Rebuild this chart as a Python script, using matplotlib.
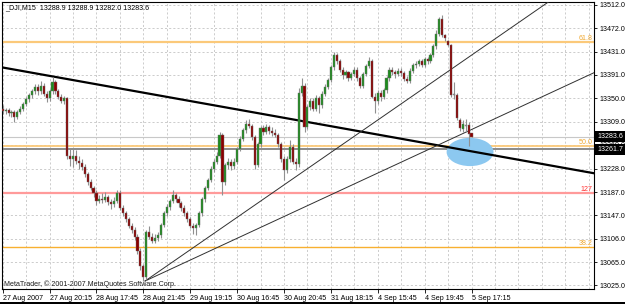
import matplotlib
matplotlib.use('Agg')
import matplotlib.pyplot as plt
from matplotlib.patches import Rectangle, Ellipse
from matplotlib import font_manager

# ---------------- data ----------------
opens = [13332, 13328, 13330, 13324, 13326, 13318, 13326, 13332, 13340, 13348,
         13356, 13362, 13370, 13362, 13372, 13358, 13350, 13362, 13378, 13362,
         13352, 13346, 13350, 13250, 13245, 13250, 13242, 13238, 13230, 13218,
         13205, 13194, 13185, 13172, 13176, 13174, 13178, 13170, 13166, 13172,
         13186, 13160, 13150, 13140, 13128, 13122, 13110, 13085, 13058, 13040,
         13118, 13110, 13102, 13108, 13112, 13130, 13150, 13162, 13172, 13182,
         13176, 13168, 13160, 13150, 13140, 13128, 13124, 13130, 13150, 13175,
         13195, 13208, 13228, 13240, 13250, 13286, 13205, 13235, 13240, 13232,
         13240, 13262, 13280, 13295, 13305, 13302, 13282, 13235, 13270, 13298,
         13292, 13300, 13294, 13290, 13286, 13270, 13245, 13225, 13245, 13265,
         13240, 13236, 13360, 13372, 13300, 13335, 13345, 13332, 13350, 13338,
         13358, 13370, 13382, 13405, 13425, 13415, 13400, 13390, 13395, 13385,
         13392, 13400, 13385, 13372, 13392, 13406, 13415, 13352, 13345, 13360,
         13352, 13364, 13385, 13400, 13395, 13392, 13398, 13394, 13384, 13380,
         13398, 13408, 13410, 13414, 13408, 13418, 13415, 13426, 13440, 13462,
         13488, 13460, 13450, 13443, 13356, 13356, 13312, 13296, 13302, 13304,
         13288.9]
highs = [13338, 13334, 13334, 13330, 13330, 13330, 13336, 13344, 13352, 13360,
         13366, 13374, 13374, 13380, 13376, 13362, 13366, 13387, 13382, 13366,
         13358, 13354, 13352, 13262, 13262, 13260, 13250, 13244, 13236, 13222,
         13210, 13198, 13190, 13182, 13185, 13187, 13182, 13176, 13178, 13190,
         13190, 13164, 13154, 13144, 13134, 13126, 13114, 13090, 13062, 13122,
         13128, 13116, 13114, 13118, 13134, 13154, 13166, 13176, 13190, 13186,
         13180, 13172, 13164, 13154, 13144, 13134, 13134, 13154, 13178, 13198,
         13212, 13232, 13244, 13256, 13292, 13290, 13238, 13246, 13244, 13246,
         13266, 13284, 13298, 13313, 13314, 13306, 13286, 13274, 13302, 13304,
         13306, 13304, 13300, 13296, 13290, 13274, 13250, 13250, 13278, 13270,
         13246, 13368, 13385, 13376, 13338, 13350, 13350, 13356, 13354, 13362,
         13374, 13386, 13408, 13430, 13428, 13418, 13404, 13400, 13398, 13396,
         13404, 13404, 13388, 13396, 13410, 13422, 13418, 13360, 13364, 13364,
         13368, 13388, 13404, 13404, 13400, 13402, 13402, 13398, 13388, 13402,
         13412, 13414, 13418, 13418, 13422, 13422, 13428, 13445, 13468, 13492,
         13495, 13462, 13452, 13445, 13378, 13360, 13316, 13312, 13314, 13308,
         13288.9]
lows = [13322, 13322, 13320, 13318, 13308, 13314, 13322, 13328, 13336, 13344,
        13350, 13358, 13356, 13358, 13354, 13343, 13346, 13358, 13358, 13348,
        13342, 13340, 13245, 13232, 13230, 13236, 13228, 13226, 13214, 13200,
        13190, 13178, 13165, 13168, 13168, 13170, 13164, 13158, 13162, 13168,
        13156, 13146, 13136, 13124, 13116, 13104, 13080, 13052, 13033, 13035,
        13106, 13098, 13098, 13102, 13108, 13126, 13146, 13156, 13168, 13170,
        13162, 13154, 13146, 13136, 13124, 13115, 13112, 13126, 13146, 13170,
        13190, 13204, 13222, 13236, 13246, 13182, 13200, 13228, 13226, 13228,
        13236, 13258, 13276, 13290, 13298, 13278, 13228, 13230, 13266, 13286,
        13288, 13288, 13284, 13282, 13266, 13240, 13208, 13220, 13240, 13236,
        13226, 13230, 13354, 13292, 13296, 13330, 13328, 13328, 13325, 13334,
        13354, 13366, 13378, 13400, 13410, 13396, 13384, 13386, 13380, 13382,
        13388, 13380, 13368, 13368, 13388, 13402, 13350, 13324, 13340, 13346,
        13348, 13360, 13380, 13390, 13386, 13388, 13388, 13380, 13376, 13376,
        13394, 13402, 13406, 13404, 13404, 13410, 13412, 13422, 13436, 13458,
        13456, 13450, 13440, 13352, 13348, 13312, 13294, 13292, 13292, 13268,
        13282.0]
closes = [13328, 13330, 13324, 13326, 13318, 13326, 13332, 13340, 13348, 13356,
          13362, 13370, 13362, 13372, 13358, 13350, 13362, 13378, 13362, 13352,
          13346, 13350, 13250, 13245, 13250, 13242, 13238, 13230, 13218, 13205,
          13194, 13185, 13172, 13176, 13174, 13178, 13170, 13166, 13172, 13186,
          13160, 13150, 13140, 13128, 13122, 13110, 13085, 13058, 13040, 13118,
          13110, 13102, 13108, 13112, 13130, 13150, 13162, 13172, 13182, 13176,
          13168, 13160, 13150, 13140, 13128, 13124, 13130, 13150, 13175, 13195,
          13208, 13228, 13240, 13250, 13286, 13205, 13235, 13240, 13232, 13240,
          13262, 13280, 13295, 13305, 13302, 13282, 13235, 13270, 13298, 13292,
          13300, 13294, 13290, 13286, 13270, 13245, 13225, 13245, 13265, 13240,
          13236, 13360, 13372, 13300, 13335, 13345, 13332, 13350, 13338, 13358,
          13370, 13382, 13405, 13425, 13415, 13400, 13390, 13395, 13385, 13392,
          13400, 13385, 13372, 13392, 13406, 13415, 13352, 13345, 13360, 13352,
          13364, 13385, 13400, 13395, 13392, 13398, 13394, 13384, 13380, 13398,
          13408, 13410, 13414, 13408, 13418, 13415, 13426, 13440, 13462, 13488,
          13460, 13455, 13443, 13356, 13356, 13316, 13298, 13306, 13302, 13288,
          13283.6]

date_label_bars = [0, 16, 32, 48, 64, 80, 96, 112, 128, 144, 160]
date_labels = ["27 Aug 2007", "27 Aug 20:15", "28 Aug 17:45", "28 Aug 21:45",
               "29 Aug 19:15", "30 Aug 16:45", "30 Aug 20:45", "31 Aug 18:15",
               "4 Sep 15:45", "4 Sep 19:45", "5 Sep 17:15"]
price_ticks = [13512.0, 13472.0, 13431.0, 13391.0, 13350.0, 13309.0, 13269.0,
               13228.0, 13187.0, 13147.0, 13106.0, 13065.0, 13025.0]

fib_names = ["61.8", "50.0", "38.2"]
fib_prices = [13447.2, 13268.0, 13091.9]
ext_name = "127"
ext_price = 13185.6
bid_price = 13283.6
line_price = 13261.7

thick_p1 = (17.0, 13388.0)
thick_p2 = (150.0, 13267.0)
ray_start = (48.6, 13032.8)
ray1_end = (190.0, 13530.5)
ray2_end = (205.0, 13402.0)

header = "_DJI,M15  13288.9 13288.9 13282.0 13283.6"
copyright_txt = "MetaTrader, \u00a9 2001-2007 MetaQuotes Software Corp."

# ---------------- font choice ----------------
installed = {f.name for f in font_manager.fontManager.ttflist}
if 'Liberation Sans Narrow' in installed:
    FONT, FS = 'Liberation Sans Narrow', 6.2
else:
    FONT, FS = 'Liberation Sans', 5.1
plt.rcParams['font.family'] = [FONT, 'DejaVu Sans']

# ---------------- figure ----------------
W, H = 625, 304
fig = plt.figure(figsize=(W / 100, H / 100), dpi=100)
fig.patch.set_facecolor('white')

def fx(px):
    return px / W

def fy(py):
    return 1 - py / H

L, R, T, B = 2, 594, 2, 289
ax = fig.add_axes([fx(L), fy(B), (R - L) / W, (B - T) / H])
ax.set_xlim(-0.24, 201.8)
ax.set_ylim(13018.9, 13517.2)

# grid
for v in range(0, 202, 8):
    ax.axvline(v, color='#c4c4c4', lw=0.6, ls=(0, (2.5, 2.5)), zorder=0)
for p in price_ticks:
    ax.axhline(p, color='#c4c4c4', lw=0.6, ls=(0, (2.5, 2.5)), zorder=0)

# horizontal levels
ax.axhline(fib_prices[0], color='#fbc97a', lw=1.6, zorder=1)
ax.axhline(fib_prices[1], color='#fbc97a', lw=1.3, zorder=1)
ax.axhline(fib_prices[2], color='#f8b030', lw=1.0, zorder=1)
ax.axhline(ext_price, color='#ff9a9a', lw=1.6, zorder=1)
ax.axhline(bid_price, color='#c8c8c8', lw=0.8, zorder=1)
ax.axhline(line_price, color='#8a8a8a', lw=1.4, zorder=1)

for name, p in zip(fib_names, fib_prices):
    ax.text(201.2, p, name, color='#f0a830', fontsize=FS, ha='right', va='bottom', zorder=6)
ax.text(201.2, ext_price, ext_name, color='#ff3030', fontsize=FS, ha='right', va='bottom', zorder=6)

# ellipse
ell = Ellipse((159.5, 13256.8), 16.0, 49.0, facecolor='#8cc8f0', edgecolor='none', zorder=2)
ax.add_patch(ell)

# trend lines
ax.axline(thick_p1, thick_p2, color='black', lw=1.6, zorder=3)
ax.plot([ray_start[0], ray1_end[0]], [ray_start[1], ray1_end[1]], color='#303030', lw=0.7, zorder=3)
ax.plot([ray_start[0], ray2_end[0]], [ray_start[1], ray2_end[1]], color='#303030', lw=0.7, zorder=3)

# candles
idx = list(range(len(closes)))
ax.vlines(idx, lows, highs, color='#909090', lw=0.8, zorder=4)
for i in idx:
    o, c = opens[i], closes[i]
    if c > o:
        col = '#1e8c1e'
    elif c < o:
        col = '#8b0000'
    else:
        col = '#a0a0a0'
    bottom = min(o, c)
    h = max(abs(c - o), 1.2)
    ax.bar(i, h, bottom=bottom, width=0.72, color=col, edgecolor='#707070',
           linewidth=0.3, zorder=5)

# axes styling
for s in ax.spines.values():
    s.set_color('black')
    s.set_linewidth(0.8)
ax.yaxis.tick_right()
ax.set_yticks(price_ticks)
ax.set_yticklabels([f"{p:.1f}" for p in price_ticks])
ax.tick_params(axis='y', direction='out', length=2.5, width=0.6, labelsize=FS, pad=1.2,
               colors='black')
ax.set_xticks(date_label_bars)
ax.set_xticklabels(date_labels)
ax.tick_params(axis='x', direction='out', length=3, width=0.6, labelsize=FS, pad=1.0,
               colors='black')
for lab in ax.get_xticklabels():
    lab.set_horizontalalignment('left')

# texts
fig.text(fx(5), fy(8), header, fontsize=FS, color='black', ha='left', va='center')
ax.text(0.6, 13027.5, copyright_txt, fontsize=FS, color='#202020', ha='left', va='center', zorder=6)

# price tags on axis
for p, py in [(bid_price, 136.7), (line_price, 149.3)]:
    fig.add_artist(Rectangle((fx(595), fy(py + 5.2)), (625 - 595) / W, 10.4 / H,
                             transform=fig.transFigure, facecolor='black', edgecolor='none', zorder=10))
    fig.text(fx(597), fy(py), f"{p:.1f}", fontsize=FS, color='white', ha='left', va='center', zorder=11)

# window border at bottom
fig.add_artist(Rectangle((0, 0), 1, 2.5 / H, transform=fig.transFigure,
                         facecolor='black', edgecolor='none', zorder=10))

fig.savefig('out.png', dpi=100)
